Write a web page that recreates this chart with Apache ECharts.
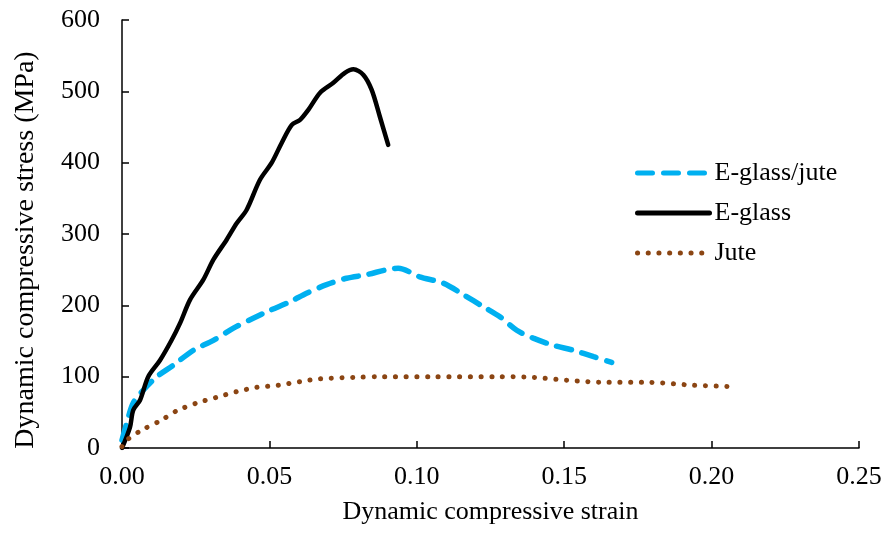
<!DOCTYPE html>
<html>
<head>
<meta charset="utf-8">
<script src="https://cdn.jsdelivr.net/npm/echarts@6/dist/echarts.min.js"></script>
<style>
  html, body { margin: 0; padding: 0; background: #fff; }
  #chart { width: 885px; height: 533px; }
</style>
</head>
<body>
<div id="chart"></div>
<script>
// Datos: [deformación, esfuerzo MPa]
const eglassJute = [
    [0, 11], [0.0016, 35], [0.0038, 63], [0.0072, 81], [0.0118, 100], [0.0174, 116],
    [0.0242, 137], [0.031, 151], [0.0378, 168], [0.0445, 182], [0.0502, 193],
    [0.057, 205], [0.0626, 217], [0.0694, 229], [0.0762, 238], [0.083, 243],
    [0.0898, 250], [0.0937, 252], [0.101, 240], [0.109, 231], [0.1158, 215],
    [0.1226, 198], [0.1282, 184], [0.1339, 165], [0.1395, 154], [0.1463, 144],
    [0.1531, 137], [0.16, 128], [0.1661, 120]
];

const eglass = [
    [0, 0], [0.0027, 29], [0.0038, 53], [0.0061, 67], [0.0089, 100], [0.0129, 123],
    [0.0168, 151], [0.0197, 175], [0.0231, 208], [0.0276, 236], [0.031, 264],
    [0.0355, 292], [0.0389, 315], [0.0423, 334], [0.0468, 376], [0.0508, 400],
    [0.0542, 428], [0.0576, 453], [0.0604, 460], [0.0632, 474], [0.0672, 498],
    [0.0717, 512], [0.0756, 526], [0.0785, 531], [0.0819, 523], [0.0847, 502],
    [0.0875, 464], [0.0903, 425]
];

const jute = [
    [0, 2], [0.0016, 11], [0.0067, 25], [0.0129, 38], [0.0185, 52], [0.0253, 63],
    [0.0321, 71], [0.0389, 79], [0.0457, 85], [0.053, 88], [0.0604, 93],
    [0.0672, 97], [0.0785, 99], [0.0886, 100], [0.1056, 100], [0.1282, 100],
    [0.1395, 99], [0.151, 95], [0.1644, 92], [0.179, 92], [0.1938, 88], [0.2085, 86]
];

const seriesNames = ['E-glass/jute', 'E-glass', 'Jute'];

const chart = echarts.init(document.getElementById('chart'));

const font = 'Liberation Serif, Times New Roman, serif';

const option = {
    backgroundColor: '#fff',
    animation: false,
    textStyle: { fontFamily: font },
    grid: { left: 122, right: 26, top: 20, bottom: 85 },
    legend: {
        data: seriesNames,
        orient: 'vertical',
        left: 630,
        top: 155,
        itemWidth: 72,
        itemHeight: 14,
        itemGap: 14,
        itemStyle: { opacity: 0 },
        lineStyle: { width: 5, cap: 'round' },
        textStyle: { fontFamily: font, fontSize: 26, color: '#000' }
    },
    xAxis: {
        type: 'value',
        min: 0,
        max: 0.25,
        interval: 0.05,
        name: 'Dynamic compressive strain',
        nameLocation: 'middle',
        nameGap: 51,
        nameTextStyle: { fontFamily: font, fontSize: 26, color: '#000' },
        axisLine: { lineStyle: { color: '#000', width: 1.5 } },
        axisTick: { inside: true, length: 7, lineStyle: { color: '#000', width: 1.5 } },
        axisLabel: {
            fontFamily: font, fontSize: 26, color: '#000', margin: 16,
            formatter: v => v.toFixed(2)
        },
        splitLine: { show: false }
    },
    yAxis: {
        type: 'value',
        min: 0,
        max: 600,
        interval: 100,
        name: 'Dynamic compressive stress (MPa)',
        nameLocation: 'middle',
        nameGap: 82,
        nameTextStyle: { fontFamily: font, fontSize: 28, color: '#000', padding: [0, 32, 0, 0] },
        axisLine: { show: true, lineStyle: { color: '#000', width: 1.5 } },
        axisTick: { show: true, inside: true, length: 7, lineStyle: { color: '#000', width: 1.5 } },
        axisLabel: { fontFamily: font, fontSize: 26, color: '#000', margin: 22 },
        splitLine: { show: false }
    },
    series: [
        {
            name: seriesNames[0],
            type: 'line',
            data: eglassJute,
            smooth: 0.3,
            symbol: 'none',
            itemStyle: { color: '#00B0F0' },
            lineStyle: { color: '#00B0F0', width: 5.5, type: [15, 11], cap: 'round' }
        },
        {
            name: seriesNames[1],
            type: 'line',
            data: eglass,
            smooth: 0.3,
            symbol: 'none',
            itemStyle: { color: '#000' },
            lineStyle: { color: '#000', width: 4.5, cap: 'round' }
        },
        {
            name: seriesNames[2],
            type: 'line',
            data: jute,
            smooth: 0.3,
            symbol: 'none',
            itemStyle: { color: '#8B4513' },
            lineStyle: { color: '#8B4513', width: 5, type: [0.1, 10.6], cap: 'round' }
        }
    ]
};

chart.setOption(option);
</script>
</body>
</html>
